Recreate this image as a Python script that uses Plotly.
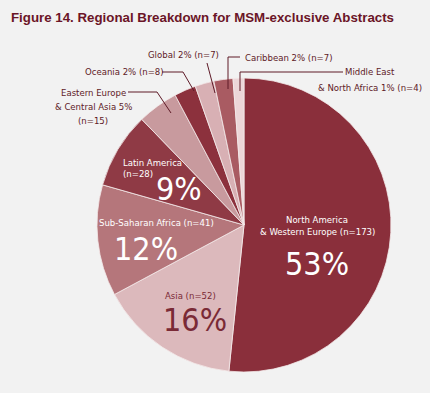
import plotly.graph_objects as go

W, H = 430, 393

regions = ["North America & Western Europe", "Asia", "Sub-Saharan Africa", "Latin America",
           "Eastern Europe & Central Asia", "Oceania", "Global", "Caribbean",
           "Middle East & North Africa"]
counts = [173, 52, 41, 28, 15, 8, 7, 7, 4]
percents = ["53%", "16%", "12%", "9%", "5%", "2%", "2%", "2%", "1%"]
colors = ["#8a2f3b", "#dcb9bc", "#b5767b", "#8f3a45", "#c89a9e",
          "#8c313d", "#d8b0b4", "#a95b62", "#ecd6d8"]

COND = "DejaVu Sans Condensed, Liberation Sans, sans-serif"
DARK = "#5e1a27"
SMALL = 9.5
BIG = 32


def px(x, y):
    return x / W, 1 - y / H


cx, cy, r = 244, 225, 147
fig = go.Figure(go.Pie(
    labels=regions, values=counts, sort=False, direction="clockwise", rotation=0,
    marker=dict(colors=colors, line=dict(color="#f4eaea", width=0.8)),
    textinfo="none", hoverinfo="label+value",
    domain=dict(x=[(cx - r) / W, (cx + r) / W], y=[1 - (cy + r) / H, 1 - (cy - r) / H]),
    showlegend=False,
))

ann = []


def text(x, y, s, size, color=DARK, xanchor="center", family=COND, bold=False):
    xx, yy = px(x, y)
    ann.append(dict(x=xx, y=yy, xref="paper", yref="paper", text=("<b>%s</b>" % s) if bold else s,
                    showarrow=False, xanchor=xanchor, yanchor="middle",
                    font=dict(family=family, size=size, color=color)))


text(9, 17, "Figure 14. Regional Breakdown for MSM-exclusive Abstracts", 13.3, "#6b1527",
     "left", "Liberation Sans, Arial, sans-serif", True)

# outer labels
text(183, 55, "%s %s (n=%d)" % (regions[6], percents[6], counts[6]), SMALL)
text(124, 72, "%s %s (n=%d)" % (regions[5], percents[5], counts[5]), SMALL)
text(93, 92, "Eastern Europe", SMALL)
text(93, 106, "& Central Asia %s" % percents[4], SMALL)
text(93, 120, "(n=%d)" % counts[4], SMALL)
text(243, 57, "%s %s (n=%d)" % (regions[7], percents[7], counts[7]), SMALL, xanchor="left")
text(370, 72, "Middle East", SMALL)
text(370, 87, "& North Africa %s (n=%d)" % (percents[8], counts[8]), SMALL)

# inner labels
WH = "white"
text(121, 162, "Latin America", SMALL, WH, "left")
text(121, 173, "(n=%d)" % counts[3], SMALL, WH, "left")
text(154, 189, percents[3], BIG, WH, "left")
text(156, 222, "Sub-Saharan Africa (n=%d)" % counts[2], SMALL, WH)
text(112, 249, percents[2], BIG, WH, "left")
text(190, 295, "Asia (n=%d)" % counts[1], SMALL, "#7a2a36")
text(195, 320, percents[1], BIG, "#7a2a36")
text(317, 219, "North America", SMALL, WH)
text(317, 231, "& Western Europe (n=%d)" % counts[0], SMALL, WH)
text(317, 264, percents[0], BIG, WH)

shapes = []


def poly(points):
    for (x0, y0), (x1, y1) in zip(points[:-1], points[1:]):
        a, b = px(x0, y0)
        c, d = px(x1, y1)
        shapes.append(dict(type="line", xref="paper", yref="paper", x0=a, y0=b, x1=c, y1=d,
                           line=dict(color="#5e1a27", width=1)))


poly([(207, 63), (215, 93)])
poly([(162, 72), (183, 72), (194, 91)])
poly([(128, 92), (157, 92), (171, 113)])
poly([(240, 57), (228, 57), (228, 89)])
poly([(343, 72), (240, 72), (240, 91)])

fig.update_layout(width=W, height=H, margin=dict(l=0, r=0, t=0, b=0),
                  paper_bgcolor="#f2f2f2", plot_bgcolor="#f2f2f2",
                  annotations=ann, shapes=shapes)
fig.write_html("out.html", config={"displayModeBar": False},
               post_script="document.body.style.margin='0';document.body.style.background='#f2f2f2';")
